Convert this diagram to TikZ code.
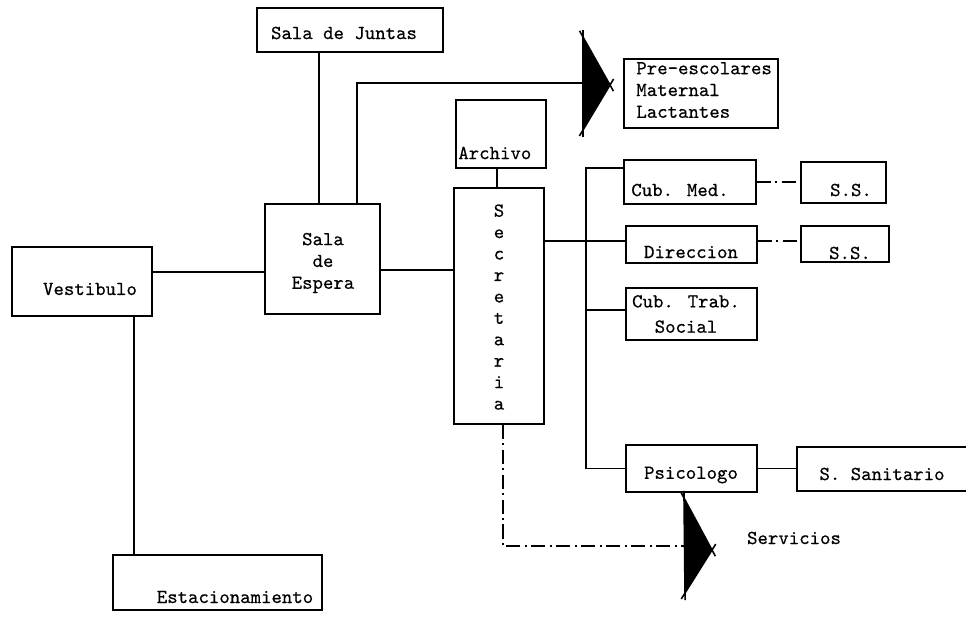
\documentclass[tikz,border=0pt]{standalone}
\usepackage{fontspec}
\newfontfamily\typed{lmmono10-regular}[Extension=.otf,FakeBold=0.5]
\begin{document}
\begin{tikzpicture}[x=0.02cm,y=-0.02cm,
	room/.style={draw,line width=0.8pt,inner sep=0pt},
	lbl/.style={inner sep=0pt,align=center,font=\fontsize{11.3}{12.4}\selectfont\typed},
	link/.style={line width=1.1pt},
	dotlink/.style={line width=1.1pt,dash pattern=on 8pt off 2.5pt on 1.2pt off 2.5pt},
	tip/.style={line width=0.9pt,shorten <=-4pt,shorten >=-4pt}]
	\useasboundingbox (0,0) rectangle (966,621);
	\node [room,minimum width=3.72cm,minimum height=0.88cm] (juntas) at (350,30) {};
	\node [room,minimum width=3.08cm,minimum height=1.38cm] (pre) at (701,93.5) {};
	\node [room,minimum width=1.80cm,minimum height=1.36cm] (archivo) at (501,134) {};
	\node [room,minimum width=1.80cm,minimum height=4.72cm] (secretaria) at (499,306) {};
	\node [room,minimum width=2.30cm,minimum height=2.20cm] (espera) at (322.5,259) {};
	\node [room,minimum width=2.80cm,minimum height=1.38cm] (vestibulo) at (82,281.5) {};
	\node [room,minimum width=4.18cm,minimum height=1.10cm] (estac) at (217.5,582.5) {};
	\node [room,minimum width=2.64cm,minimum height=0.88cm] (cubmed) at (690,182) {};
	\node [room,minimum width=1.70cm,minimum height=0.82cm] (ssa) at (843.5,182.5) {};
	\node [room,minimum width=2.62cm,minimum height=0.74cm] (direccion) at (691.5,244.5) {};
	\node [room,minimum width=1.76cm,minimum height=0.72cm] (ssb) at (845,244) {};
	\node [room,minimum width=2.62cm,minimum height=1.04cm] (trab) at (691.5,314) {};
	\node [room,minimum width=2.62cm,minimum height=0.94cm] (psicologo) at (691.5,468.5) {};
	\node [room,minimum width=3.66cm,minimum height=0.88cm] (sanitario) at (888.5,469) {};
	\node [lbl] (juntas-t) at (344,33) {Sala de Juntas};
	\node [lbl,align=left,anchor=west] (pre-t) at (636,90) {Pre-escolares\\Maternal\\Lactantes};
	\node [lbl,anchor=west] (archivo-t) at (458,153) {Archivo};
	\node [lbl,font=\fontsize{11.3}{12.2}\selectfont\typed] (secretaria-t) at (499,307) {S\\e\\c\\r\\e\\t\\a\\r\\i\\a};
	\node [lbl] (espera-t) at (323,263) {Sala\\de\\Espera};
	\node [lbl] (vestibulo-t) at (90,289) {Vestibulo};
	\node [lbl] (estac-t) at (235,597) {Estacionamiento};
	\node [lbl] (cubmed-t) at (680,190) {Cub. Med.};
	\node [lbl] (ssa-t) at (851,190) {S.S.};
	\node [lbl] (direccion-t) at (691,252) {Direccion};
	\node [lbl] (ssb-t) at (850,253) {S.S.};
	\node [lbl] (trab-t) at (686,314) {Cub. Trab.\\[2pt]Social};
	\node [lbl] (psicologo-t) at (691,475) {Psicologo};
	\node [lbl] (sanitario-t) at (882,474) {S. Sanitario};
	\node [lbl] (servicios-t) at (794,538) {Servicios};
	\coordinate (t1a) at (583,37);
	\coordinate (t1b) at (610,85);
	\coordinate (t1c) at (583,130);
	\coordinate (t1) at (583,83);
	\coordinate (t2a) at (684,498);
	\coordinate (t2b) at (712,550);
	\coordinate (t2c) at (685,593);
	\coordinate (t2) at (685,546);
	\fill (t1a) -- (t1b) -- (t1c) -- cycle;
	\draw [tip] (t1a) -- (t1b);
	\draw [tip] (t1b) -- (t1c);
	\draw [tip] (t1c) -- (t1a);
	\fill (t2a) -- (t2b) -- (t2c) -- cycle;
	\draw [tip] (t2a) -- (t2b);
	\draw [tip] (t2b) -- (t2c);
	\draw [tip] (t2c) -- (t2a);
	\draw [link] ([yshift=0.19cm]vestibulo.east) coordinate (a1) -- (a1 -| espera.west);
	\draw [link] ([xshift=1.04cm]vestibulo.south) coordinate (a2) -- (a2 |- estac.north);
	\draw [link] ([xshift=-0.62cm]juntas.south) coordinate (a3) -- (a3 |- espera.north);
	\draw [link] ([xshift=0.69cm]espera.north) |- (t1);
	\draw [link] ([yshift=-0.22cm]espera.east) coordinate (a5) -- (a5 -| secretaria.west);
	\draw [link] ([xshift=-0.08cm]archivo.south) coordinate (a6) -- (a6 |- secretaria.north);
	\draw [link] ([yshift=1.30cm]secretaria.east) coordinate (a7) -- (a7 -| direccion.west);
	\draw [link] ([yshift=0.28cm]cubmed.west) -- ++(-0.74cm,0) coordinate (bus) |- (psicologo.west);
	\draw [link] ([yshift=0.08cm]trab.west) coordinate (a9) -- (a9 -| bus);
	\draw [link] (psicologo.east) -- (psicologo.east -| sanitario.west);
	\draw [dotlink] (cubmed.east) -- (cubmed.east -| ssa.west);
	\draw [dotlink] ([yshift=0.07cm]direccion.east) coordinate (a11) -- (a11 -| ssb.west);
	\draw [dotlink] ([xshift=0.08cm]secretaria.south) |- (t2);
\end{tikzpicture}
\end{document}
